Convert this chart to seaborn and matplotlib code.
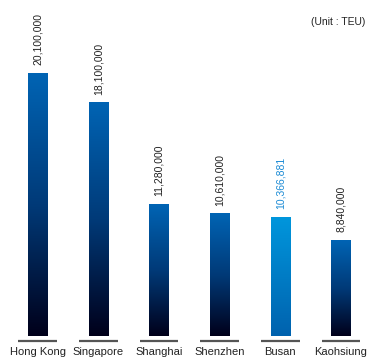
import numpy as np
import pandas as pd
import matplotlib
matplotlib.use("Agg")
import matplotlib.pyplot as plt
from matplotlib.colors import LinearSegmentedColormap
import seaborn as sns

ports = ["Hong Kong", "Singapore", "Shanghai", "Shenzhen", "Busan", "Kaohsiung"]
teu = [20100000, 18100000, 11280000, 10610000, 10366881, 8840000]
value_labels = ["20,100,000", "18,100,000", "11,280,000", "10,610,000", "10,366,881", "8,840,000"]
highlight = "Busan"

sns.set_theme(style="white")
font_list = ["Liberation Sans", "DejaVu Sans"]
plt.rcParams["font.family"] = font_list

df = pd.DataFrame({"port": ports, "teu": teu})

fig = plt.figure(figsize=(3.68, 3.60), dpi=100)
ax = fig.add_axes([0, 24 / 360, 1, 1 - 24 / 360])

sns.barplot(data=df, x="port", y="teu", ax=ax, width=0.32, color="#0064b4",
            saturation=1, edgecolor="none")

ymin, ymax = 2.39e6, 25.02e6
ax.set_xlim(-0.625, 5.447)
ax.set_ylim(ymin, ymax)

dark_cmap = LinearSegmentedColormap.from_list("d", ["#00001a", "#003a78", "#0064b4"])
busan_cmap = LinearSegmentedColormap.from_list("b", ["#0062ae", "#0096dc"])
grad = np.linspace(0, 1, 256).reshape(-1, 1)

for patch, name, lab in zip(ax.patches, ports, value_labels):
    x0 = patch.get_x()
    w = patch.get_width()
    h = patch.get_height()
    patch.set_facecolor("none")
    cmap = busan_cmap if name == highlight else dark_cmap
    ax.imshow(grad, cmap=cmap, origin="lower", aspect="auto",
              extent=[x0, x0 + w, ymin, h], zorder=2)
    cx = x0 + w / 2
    ax.text(cx, h + 0.55e6, lab, rotation=90, ha="center", va="bottom",
            fontsize=7.5, color="#1a8ad4" if name == highlight else "#222222",
            zorder=3)
    ax.plot([cx - 0.32, cx + 0.32], [2.05e6, 2.05e6], color="#555555",
            lw=1.6, clip_on=False, solid_capstyle="butt")

ax.set_xlabel("")
ax.set_ylabel("")
ax.set_yticks([])
ax.tick_params(axis="x", length=0, pad=8, labelsize=8, colors="#222222")
for s in ax.spines.values():
    s.set_visible(False)

ax.text(0.994, 0.935, "(Unit : TEU)", transform=ax.transAxes, ha="right",
        va="center", fontsize=7.5, color="#222222")

fig.savefig("out.png", dpi=100)
